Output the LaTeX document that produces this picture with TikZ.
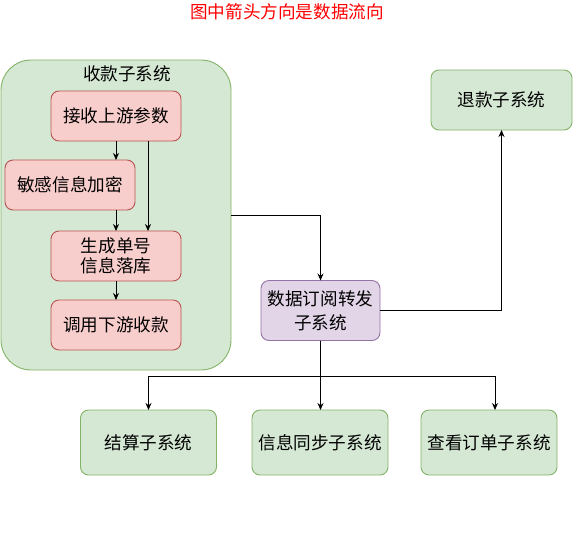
\documentclass[tikz,border=0pt]{standalone}
\usepackage{fontspec}
\setmainfont{Noto Sans CJK SC}
\usetikzlibrary{arrows.meta}
\definecolor{gfill}{HTML}{D5E8D4}
\definecolor{gline}{HTML}{82B366}
\definecolor{rfill}{HTML}{F8CECC}
\definecolor{rline}{HTML}{B85450}
\definecolor{pfill}{HTML}{E1D5E7}
\definecolor{pline}{HTML}{9673A6}
\begin{document}
\begin{tikzpicture}[x=1pt,y=-1pt,
  every node/.style={font=\fontsize{17.6}{21}\selectfont, inner sep=0pt, outer sep=0pt},
  gbox/.style={draw=gline, fill=gfill, rounded corners=8pt, line width=0.9pt},
  rbox/.style={draw=rline, fill=rfill, rounded corners=8pt, line width=0.9pt, minimum width=130pt, minimum height=50pt, align=center},
  pbox/.style={draw=pline, fill=pfill, rounded corners=8pt, line width=0.9pt, minimum width=119pt, minimum height=60pt, align=center},
  conn/.style={draw=black, line width=0.9pt, -{Stealth[length=7pt,width=6pt]}},
  plain/.style={draw=black, line width=0.9pt}]
\useasboundingbox[fill=white] (0,0) rectangle (577,536);
\node[text=red] (title) at (287,12) {图中箭头方向是数据流向};
% container
\node[gbox, rounded corners=30pt, minimum width=230pt, minimum height=310pt] (pay) at (116,215) {};
\node (paylabel) at (127,74) {收款子系统};
\node[rbox] (recv) at (116,116) {接收上游参数};
\node[rbox] (enc) at (70,185) {敏感信息加密};
\node[rbox, font=\fontsize{17.6}{20.5}\selectfont] (gen) at (116,256) {生成单号\\信息落库};
\node[rbox] (call) at (116,325) {调用下游收款};
\draw[conn] ([xshift=0pt]recv.south) -- (recv.south |- enc.north);
\draw[conn] ([xshift=32pt]recv.south) -- ([xshift=32pt]gen.north);
\draw[conn] (recv.south |- enc.south) -- (gen.north);
\draw[conn] (gen.south) -- (call.north);
% subscription
\node[pbox, font=\fontsize{17.6}{24}\selectfont] (sub) at (320.5,310.5) {数据订阅转发\\子系统};
\node[gbox, minimum width=141pt, minimum height=60pt] (refund) at (501.5,100) {退款子系统};
\node[gbox, minimum width=136pt, minimum height=65pt] (settle) at (148.5,442.5) {结算子系统};
\node[gbox, minimum width=136pt, minimum height=65pt] (sync) at (320,442.5) {信息同步子系统};
\node[gbox, minimum width=136pt, minimum height=65pt] (view) at (489,442.5) {查看订单子系统};
\draw[conn] (pay.east) -| (sub.north);
\draw[conn] (sub.east) -| (refund.south);
\coordinate (branch) at (320.5,376);
\draw[plain] (sub.south) -- (branch);
\draw[conn] (branch) -| (settle.north);
\draw[conn] (branch) -- (branch |- sync.north);
\draw[conn] (branch) -| ([xshift=6pt]view.north);
\end{tikzpicture}
\end{document}
